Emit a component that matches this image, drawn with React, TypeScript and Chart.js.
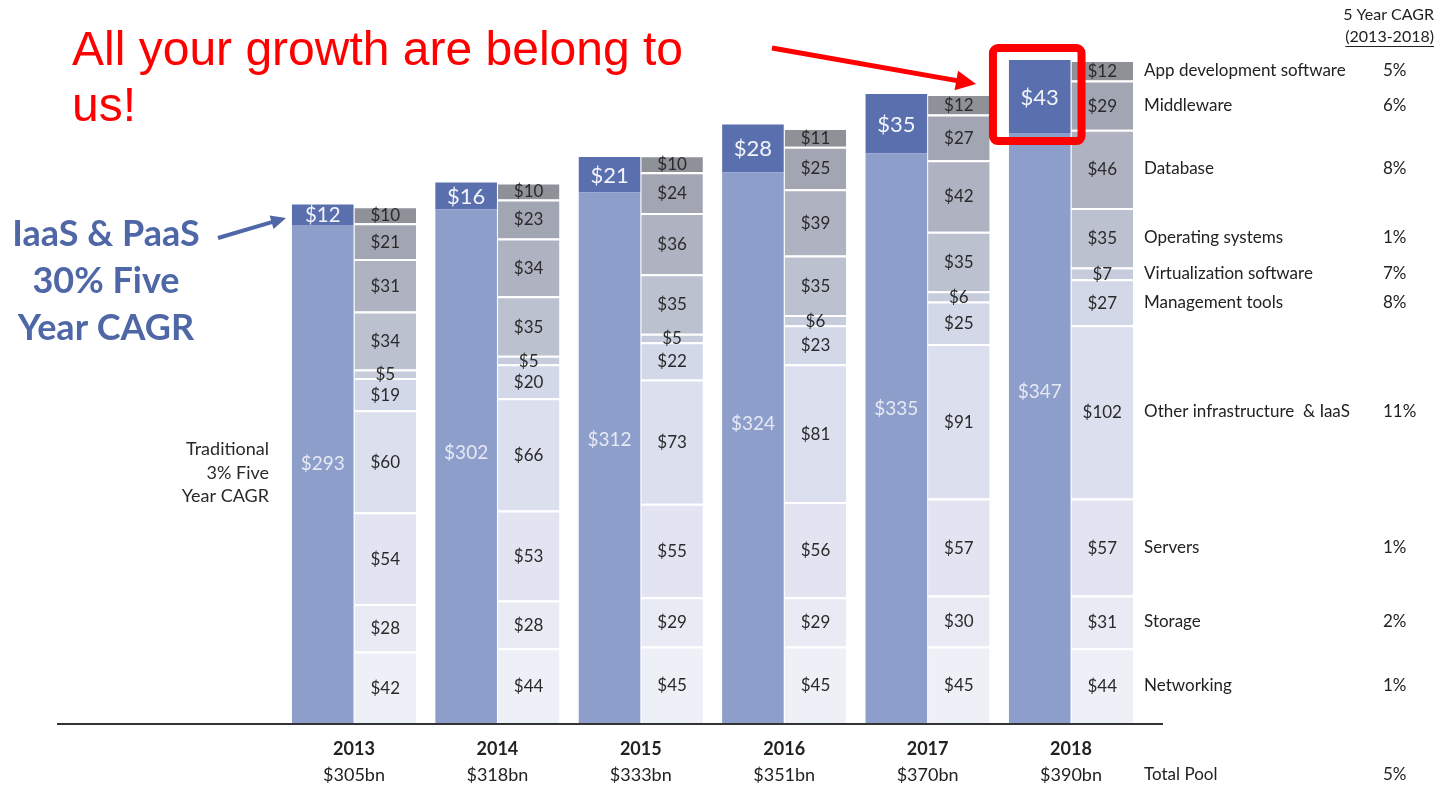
import React, { useEffect, useRef } from 'react';
import { Chart, registerables } from 'chart.js';

Chart.register(...registerables);

// ---------- data ----------
const years = ['2013', '2014', '2015', '2016', '2017', '2018'];
const totalPool = ['$305bn', '$318bn', '$333bn', '$351bn', '$370bn', '$390bn'];

const traditional = [293, 302, 312, 324, 335, 347];
const iaasPaas = [12, 16, 21, 28, 35, 43];

const networking = [42, 44, 45, 45, 45, 44];
const storage = [28, 28, 29, 29, 30, 31];
const servers = [54, 53, 55, 56, 57, 57];
const otherInfra = [60, 66, 73, 81, 91, 102];
const managementTools = [19, 20, 22, 23, 25, 27];
const virtualization = [5, 5, 5, 6, 6, 7];
const operatingSystems = [34, 35, 35, 35, 35, 35];
const database = [31, 34, 36, 39, 42, 46];
const middleware = [21, 23, 24, 25, 27, 29];
const appDevelopment = [10, 10, 10, 11, 12, 12];

const segmentNames = [
  'Networking',
  'Storage',
  'Servers',
  'Other infrastructure  & IaaS',
  'Management tools',
  'Virtualization software',
  'Operating systems',
  'Database',
  'Middleware',
  'App development software',
];
const segmentCagr = ['1%', '2%', '1%', '11%', '8%', '7%', '1%', '8%', '6%', '5%'];
const totalPoolCagr = '5%';

const segmentValues = [
  networking,
  storage,
  servers,
  otherInfra,
  managementTools,
  virtualization,
  operatingSystems,
  database,
  middleware,
  appDevelopment,
];

// ---------- styles ----------
const segmentColors = [
  '#eef0f7',
  '#e8ebf4',
  '#e2e5f1',
  '#dbdfee',
  '#d3d8e9',
  '#c7ccdc',
  '#bcc1d0',
  '#aeb2c1',
  '#a2a5b2',
  '#8f9199',
];
const traditionalColor = '#8d9ecb';
const iaasColor = '#5a6fae';
const FONT = 'Lato, "Open Sans", sans-serif';

function drawArrow(
  ctx: CanvasRenderingContext2D,
  x1: number,
  y1: number,
  x2: number,
  y2: number,
  color: string,
  width: number,
  headLen: number,
  headHalf: number
) {
  const ang = Math.atan2(y2 - y1, x2 - x1);
  const bx = x2 - Math.cos(ang) * headLen;
  const by = y2 - Math.sin(ang) * headLen;
  ctx.strokeStyle = color;
  ctx.fillStyle = color;
  ctx.lineWidth = width;
  ctx.lineCap = 'butt';
  ctx.beginPath();
  ctx.moveTo(x1, y1);
  ctx.lineTo(bx + Math.cos(ang) * 2, by + Math.sin(ang) * 2);
  ctx.stroke();
  ctx.beginPath();
  ctx.moveTo(x2, y2);
  ctx.lineTo(bx - Math.sin(ang) * headHalf, by + Math.cos(ang) * headHalf);
  ctx.lineTo(bx + Math.sin(ang) * headHalf, by - Math.cos(ang) * headHalf);
  ctx.closePath();
  ctx.fill();
}

const annotatePlugin = {
  id: 'annotate',
  afterDatasetsDraw(chart: any) {
    const { ctx } = chart;
    const xScale = chart.scales.x;
    const yScale = chart.scales.y;
    ctx.save();

    // baseline
    const y0 = yScale.getPixelForValue(0);
    ctx.strokeStyle = '#333333';
    ctx.lineWidth = 2;
    ctx.beginPath();
    ctx.moveTo(57, y0 + 1);
    ctx.lineTo(1163, y0 + 1);
    ctx.stroke();

    ctx.textAlign = 'center';
    ctx.textBaseline = 'middle';

    // traditional labels (middle of whole left stack)
    const tradMeta = chart.getDatasetMeta(0);
    tradMeta.data.forEach((bar: any, i: number) => {
      const yc = yScale.getPixelForValue((traditional[i] + iaasPaas[i]) / 2);
      ctx.font = `19px ${FONT}`;
      ctx.fillStyle = '#e6e9f3';
      ctx.fillText('$' + traditional[i], bar.x, yc);
    });

    // IaaS & PaaS labels
    const iaasMeta = chart.getDatasetMeta(1);
    iaasMeta.data.forEach((bar: any, i: number) => {
      const h = bar.base - bar.y;
      const fs = Math.max(12, Math.min(22, h));
      ctx.font = `${fs}px ${FONT}`;
      ctx.fillStyle = '#f2f4fa';
      ctx.fillText('$' + iaasPaas[i], bar.x, (bar.y + bar.base) / 2 + 1);
    });

    // right stack labels + legend
    segmentValues.forEach((vals, s) => {
      const meta = chart.getDatasetMeta(2 + s);
      ctx.textAlign = 'center';
      ctx.font = `17px ${FONT}`;
      ctx.fillStyle = '#2a2a2a';
      meta.data.forEach((bar: any, i: number) => {
        ctx.fillText('$' + vals[i], bar.x, (bar.y + bar.base) / 2 + 1);
      });
      const last: any = meta.data[meta.data.length - 1];
      const yc = (last.y + last.base) / 2;
      ctx.textAlign = 'left';
      ctx.fillStyle = '#222222';
      ctx.font = `17px ${FONT}`;
      ctx.fillText(segmentNames[s], last.x + last.width / 2 + 11, yc);
      ctx.fillText(segmentCagr[s], 1383, yc);
    });

    // year + total labels
    years.forEach((yr, i) => {
      const xc = xScale.getPixelForValue(i);
      ctx.textAlign = 'center';
      ctx.fillStyle = '#222222';
      ctx.font = `bold 18px ${FONT}`;
      ctx.fillText(yr, xc, 749);
      ctx.font = `18px ${FONT}`;
      ctx.fillText(totalPool[i], xc, 775);
    });
    {
      const lastMeta = chart.getDatasetMeta(2);
      const last: any = lastMeta.data[lastMeta.data.length - 1];
      ctx.textAlign = 'left';
      ctx.font = `17px ${FONT}`;
      ctx.fillText('Total Pool', last.x + last.width / 2 + 11, 775);
      ctx.fillText(totalPoolCagr, 1383, 775);
    }

    // CAGR header
    ctx.textAlign = 'right';
    ctx.font = `16px ${FONT}`;
    ctx.fillStyle = '#222222';
    ctx.fillText('5 Year CAGR', 1434, 15);
    ctx.fillText('(2013-2018)', 1434, 37);
    const hw = ctx.measureText('(2013-2018)').width;
    ctx.strokeStyle = '#222222';
    ctx.lineWidth = 1;
    ctx.beginPath();
    ctx.moveTo(1434 - hw, 46.5);
    ctx.lineTo(1434, 46.5);
    ctx.stroke();

    // Traditional note
    ctx.textAlign = 'right';
    ctx.font = `18px ${FONT}`;
    ctx.fillStyle = '#2a2a2a';
    ctx.fillText('Traditional', 269, 449);
    ctx.fillText('3% Five', 269, 473);
    ctx.fillText('Year CAGR', 269, 496);

    // IaaS & PaaS note
    ctx.textAlign = 'center';
    ctx.font = `bold 36px ${FONT}`;
    ctx.fillStyle = '#4f67a6';
    ctx.fillText('IaaS & PaaS', 106, 234);
    ctx.fillText('30% Five', 106, 281);
    ctx.fillText('Year CAGR', 106, 328);
    drawArrow(ctx, 218, 238, 286, 218, '#4f67a6', 4, 15, 7);

    // Title
    ctx.textAlign = 'left';
    ctx.textBaseline = 'alphabetic';
    ctx.font = '48px "Liberation Sans", Arial, sans-serif';
    ctx.fillStyle = '#ff0000';
    ctx.fillText('All your growth are belong to', 72, 65);
    ctx.fillText('us!', 72, 121);

    // red arrow
    drawArrow(ctx, 772, 48, 976, 84, '#ff0000', 5, 20, 10);

    // red box around 2018 IaaS & PaaS
    const hb: any = iaasMeta.data[iaasMeta.data.length - 1];
    const bx1 = hb.x - hb.width / 2 - 16;
    const bx2 = hb.x + hb.width / 2 + 11;
    const by1 = hb.y - 12;
    const by2 = hb.base + 8;
    ctx.strokeStyle = '#ff0000';
    ctx.lineWidth = 8;
    ctx.beginPath();
    if ((ctx as any).roundRect) {
      (ctx as any).roundRect(bx1, by1, bx2 - bx1, by2 - by1, 5);
    } else {
      ctx.rect(bx1, by1, bx2 - bx1, by2 - by1);
    }
    ctx.stroke();

    ctx.restore();
  },
};

export default function App() {
  const canvasRef = useRef<HTMLCanvasElement | null>(null);

  useEffect(() => {
    if (!canvasRef.current) return;
    const datasets: any[] = [
      {
        label: 'Traditional',
        data: traditional,
        stack: 'left',
        backgroundColor: traditionalColor,
        borderWidth: 0,
      },
      {
        label: 'IaaS & PaaS',
        data: iaasPaas,
        stack: 'left',
        backgroundColor: iaasColor,
        borderWidth: 0,
      },
      ...segmentNames.map((name, i) => ({
        label: name,
        data: segmentValues[i],
        stack: 'right',
        backgroundColor: segmentColors[i],
        borderColor: '#ffffff',
        borderWidth: { top: 2, left: 0, right: 0, bottom: 0 },
      })),
    ];

    const chart = new Chart(canvasRef.current, {
      type: 'bar',
      data: { labels: years, datasets },
      options: {
        responsive: true,
        maintainAspectRatio: false,
        animation: false,
        layout: { padding: { left: 282.3, right: 294.3, top: 43, bottom: 63 } },
        datasets: { bar: { categoryPercentage: 0.872, barPercentage: 0.985 } } as any,
        plugins: {
          legend: { display: false },
          tooltip: { enabled: false },
          title: { display: false },
        },
        scales: {
          x: { display: false, stacked: true, grid: { display: false } },
          y: { display: false, stacked: true, min: 0, max: 400, grid: { display: false } },
        },
      },
      plugins: [annotatePlugin],
    } as any);

    return () => chart.destroy();
  }, []);

  return (
    <div
      style={{
        position: 'fixed',
        left: 0,
        top: 0,
        width: '1437px',
        height: '786px',
        background: '#ffffff',
      }}
    >
      <canvas ref={canvasRef} />
    </div>
  );
}
